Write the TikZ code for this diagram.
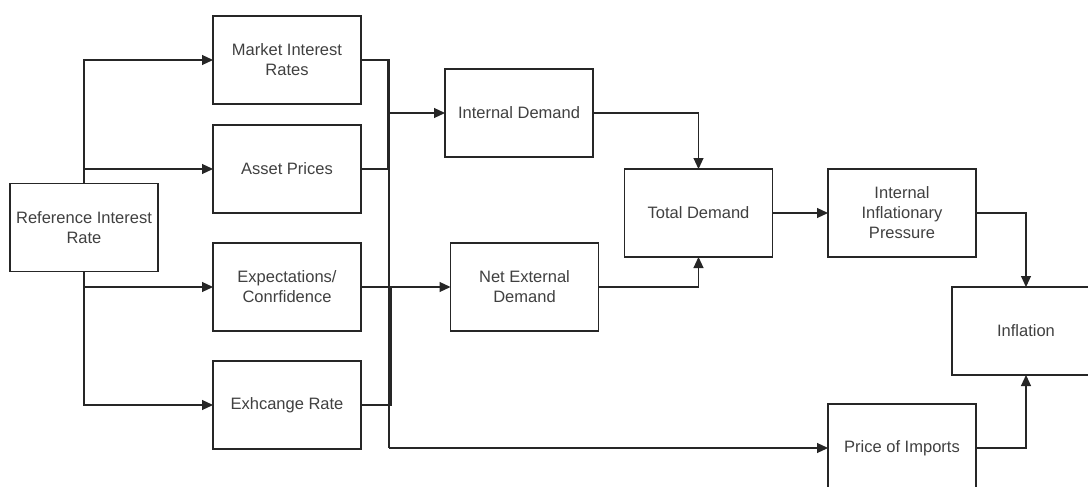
\documentclass[tikz,border=0pt]{standalone}
\usepackage{fontspec}
\setmainfont{Liberation Sans}
\usetikzlibrary{arrows.meta}
\definecolor{linec}{HTML}{262626}
\definecolor{textc}{HTML}{404040}
\tikzset{
  box/.style={draw=linec, line width=1.1pt, fill=white, minimum width=148pt, minimum height=88pt,
    inner sep=0pt, outer sep=0pt, align=center, text=textc,
    font=\fontsize{16.5}{20}\selectfont},
  conn/.style={draw=linec, line width=1.1pt},
  arr/.style={conn, -{Triangle[length=11pt,width=10pt]}}
}
\begin{document}
\begin{tikzpicture}[x=1pt,y=-1pt]
\useasboundingbox (0,0) rectangle (1088,487);
\clip (0,0) rectangle (1088,487);
\fill[white] (0,0) rectangle (1088,487);
\coordinate (bus1) at (388,113);
\coordinate (bus2) at (391,287);
\coordinate (pbus) at (389,448);
\node[box] (ref) at (84,227.5) {Reference Interest\\Rate};
\node[box] (mir) at (287,60) {Market Interest\\Rates};
\node[box] (ap)  at (287,169) {Asset Prices};
\node[box] (ec)  at (287,287) {Expectations/\\Conrfidence};
\node[box] (er)  at (287,405) {Exhcange Rate};
\node[box] (id)  at (519,113) {Internal Demand};
\node[box] (ned) at (524.5,287) {Net External\\Demand};
\node[box] (td)  at (698.5,213) {Total Demand};
\node[box] (iip) at (902,213) {Internal\\Inflationary\\Pressure};
\node[box] (inf) at (1026,331) {Inflation};
\node[box] (poi) at (902,448) {Price of Imports};
% from reference rate
\draw[arr] (ref.north) |- (mir.west);
\draw[arr] (ref.north) |- (ap.west);
\draw[arr] (ref.south) |- (ec.west);
\draw[arr] (ref.south) |- (er.west);
% to internal demand
\draw[conn] (mir.east) -| (bus1);
\draw[conn] (ap.east) -| (bus1);
\draw[arr] (bus1) -- (id.west);
% to net external demand
\draw[conn] (er.east) -| (bus2);
\draw[conn] (ec.east) -- (bus2);
\draw[arr] (bus2) -- (ned.west);
% to price of imports
\draw[conn] (mir.east) -| (pbus);
\draw[arr] (pbus) -- (poi.west);
% demand chain
\draw[arr] (id.east) -| (td.north);
\draw[arr] (ned.east) -| (td.south);
\draw[arr] (td.east) -- (iip.west);
\draw[arr] (iip.east) -| (inf.north);
\draw[arr] (poi.east) -| (inf.south);
\end{tikzpicture}
\end{document}
